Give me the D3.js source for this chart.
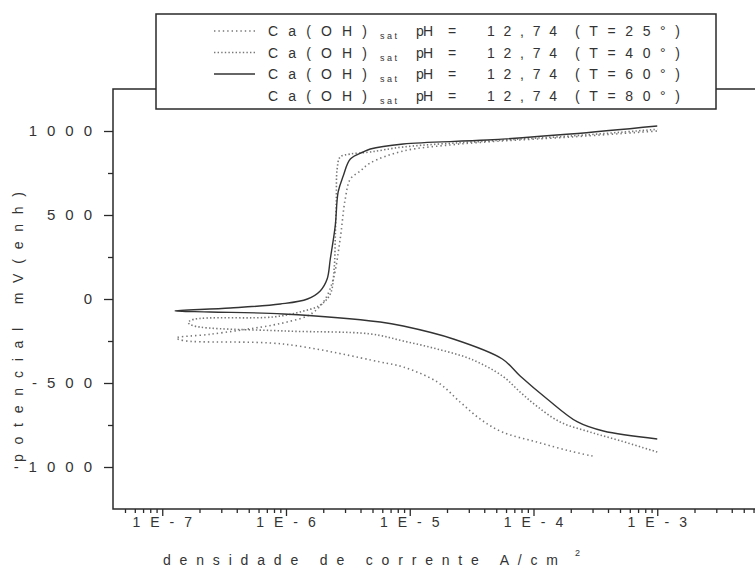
<!DOCTYPE html>
<html>
<head>
<meta charset="utf-8">
<script src="https://cdn.jsdelivr.net/npm/d3@7"></script>
<style>
  body { margin: 0; background: #fff; }
  text { font-family: "Liberation Sans", Arial, sans-serif; fill: #333; }
</style>
</head>
<body>
<svg width="755" height="573" id="chart"></svg>
<script>
// series: [current density A/cm2, potential mV], both branches start at the tip (Ecorr)
const temps = ["25", "40", "60", "80"];

const anodic25 = [[1.3e-7, -232], [2.44e-7, -210], [7.05e-7, -161], [1.02e-6, -137], [1.49e-6, -101],
  [1.79e-6, -60], [2.08e-6, 0], [2.41e-6, 119], [2.74e-6, 357], [3.01e-6, 595], [3.31e-6, 714],
  [3.98e-6, 762], [4.8e-6, 810], [8.86e-6, 881], [2.12e-5, 917], [4.23e-5, 935], [1.98e-4, 964], [1e-3, 1000]];
const cathodic25 = [[1.3e-7, -232], [1.5e-7, -248], [9.5e-7, -268], [5.78e-6, -375], [8.86e-6, -405],
  [1.67e-5, -494], [2.55e-5, -613], [3.7e-5, -714], [5.6e-5, -792], [1.06e-4, -851], [1.97e-4, -905], [3.0e-4, -935]];

const anodic40 = [[1.62e-7, -140], [1.8e-7, -121], [7.89e-7, -107], [1.3e-6, -77], [1.89e-6, -36],
  [2.28e-6, 30], [2.45e-6, 179], [2.5e-6, 357], [2.55e-6, 595], [2.59e-6, 774], [2.74e-6, 845],
  [3.31e-6, 863], [4.8e-6, 875], [8.86e-6, 905], [4.23e-5, 940], [1.98e-4, 970], [1e-3, 1010]];
const cathodic40 = [[1.62e-7, -140], [1.8e-7, -160], [9.5e-7, -190], [4.8e-6, -208], [8.86e-6, -250],
  [1.67e-5, -298], [3.1e-5, -357], [5.6e-5, -458], [7.8e-5, -554], [1.06e-4, -637], [1.64e-4, -732],
  [2.86e-4, -792], [5.1e-4, -845], [1e-3, -911]];

const anodic60 = [[1.27e-7, -71], [3.54e-7, -54], [8.99e-7, -30], [1.49e-6, 0], [1.89e-6, 48],
  [2.15e-6, 119], [2.28e-6, 238], [2.5e-6, 435], [2.64e-6, 637], [2.9e-6, 732], [3.31e-6, 833],
  [4.21e-6, 875], [4.8e-6, 893], [8.86e-6, 923], [4.23e-5, 946], [1.98e-4, 982], [1e-3, 1030]];
const cathodic60 = [[1.27e-7, -71], [2.44e-7, -77], [9.5e-7, -89], [5.78e-6, -137], [8.86e-6, -161],
  [2.25e-5, -238], [5.6e-5, -357], [7.8e-5, -458], [1.29e-4, -595], [2.27e-4, -732], [3.67e-4, -786], [1e-3, -833]];

const anodic80 = [];
const cathodic80 = [];

const xTicks = [1e-7, 1e-6, 1e-5, 1e-4, 1e-3];
const xTickLabels = ["1E-7", "1E-6", "1E-5", "1E-4", "1E-3"];
const yTicks = [-1000, -500, 0, 500, 1000];
const yMinorTicks = [-750, -250, 250, 750];

const svg = d3.select("#chart");
const plotLeft = 113, plotRight = 781, plotTop = 89, plotBottom = 509;

const x = d3.scaleLog().domain([4e-8, 1e-2]).range([plotLeft, plotRight]);
const y = d3.scaleLinear().domain([-1250, 1250]).range([plotBottom, plotTop]);

// frame
svg.append("rect")
  .attr("x", plotLeft).attr("y", plotTop)
  .attr("width", plotRight - plotLeft).attr("height", plotBottom - plotTop)
  .attr("fill", "none").attr("stroke", "#2a2a2a").attr("stroke-width", 1.5);

// minor x ticks
let xMinor = [];
for (let d = -8; d <= -3; d++) {
  for (let k = 2; k <= 9; k++) {
    const v = k * Math.pow(10, d);
    if (v > 4e-8 && v < 1e-2) xMinor.push(v);
  }
}

const gx = svg.append("g").attr("transform", "translate(0," + plotBottom + ")");
gx.append("g").call(d3.axisBottom(x).tickValues(xMinor).tickSize(4).tickSizeOuter(0).tickFormat(""));
gx.append("g").call(d3.axisBottom(x).tickValues(xTicks).tickSize(7).tickSizeOuter(0).tickFormat(""));
gx.selectAll("path.domain").remove();
gx.selectAll("line").attr("stroke", "#2a2a2a").attr("stroke-width", 1.3);

svg.selectAll(".xlab")
  .data(xTicks)
  .enter().append("text")
  .attr("class", "xlab")
  .attr("x", d => x(d) + 5)
  .attr("y", 527)
  .attr("text-anchor", "middle")
  .style("font-size", "14px")
  .style("letter-spacing", "10px")
  .text((d, i) => xTickLabels[i]);

const gy = svg.append("g").attr("transform", "translate(" + plotLeft + ",0)");
gy.append("g").call(d3.axisLeft(y).tickValues(yMinorTicks).tickSize(5).tickSizeOuter(0).tickFormat(""));
gy.append("g").call(d3.axisLeft(y).tickValues(yTicks).tickSize(9).tickSizeOuter(0).tickFormat(""));
gy.selectAll("path.domain").remove();
gy.selectAll("line").attr("stroke", "#2a2a2a").attr("stroke-width", 1.3);

svg.selectAll(".ylab")
  .data(yTicks)
  .enter().append("text")
  .attr("class", "ylab")
  .attr("x", 102)
  .attr("y", d => y(d))
  .attr("dy", "0.36em")
  .attr("text-anchor", "end")
  .style("font-size", "15px")
  .style("letter-spacing", "10px")
  .text(d => d);

// axis titles
svg.append("text")
  .attr("x", 163).attr("y", 565)
  .attr("textLength", 395).attr("lengthAdjust", "spacing")
  .style("font-size", "14px")
  .text("densidade de corrente A/cm");
svg.append("text")
  .attr("x", 575).attr("y", 556)
  .style("font-size", "9px")
  .text("2");

svg.append("text")
  .attr("transform", "translate(23,462) rotate(-90)")
  .attr("textLength", 270).attr("lengthAdjust", "spacing")
  .style("font-size", "14px")
  .text("potencial mV(enh)");

// curves
const line = d3.line()
  .x(d => x(d[0]))
  .y(d => y(d[1]))
  .curve(d3.curveCatmullRom.alpha(0.5));

const series = [
  { t: "25", anodic: anodic25, cathodic: cathodic25, color: "#777", dash: "1.4,3", width: 1.6 },
  { t: "40", anodic: anodic40, cathodic: cathodic40, color: "#777", dash: "1.4,2.2", width: 1.6 },
  { t: "60", anodic: anodic60, cathodic: cathodic60, color: "#333", dash: null, width: 1.4 },
  { t: "80", anodic: anodic80, cathodic: cathodic80, color: "none", dash: null, width: 0 }
];

series.forEach(s => {
  if (!s.anodic.length) return;
  const pts = s.cathodic.slice().reverse().concat(s.anodic.slice(1));
  svg.append("path")
    .attr("d", line(pts))
    .attr("fill", "none")
    .attr("stroke", s.color)
    .attr("stroke-width", s.width)
    .attr("stroke-dasharray", s.dash);
});

// legend
const lg = svg.append("g");
lg.append("rect")
  .attr("x", 156).attr("y", 14).attr("width", 560).attr("height", 95)
  .attr("fill", "#fff").attr("stroke", "#2a2a2a").attr("stroke-width", 1.5);

const pieceX = [268, 380, 416, 448, 487, 575];
const pieceLen = [99, 17, 17, 9, 70, 105];

series.forEach((s, i) => {
  const by = 36 + i * 21.5;
  if (s.width) {
    lg.append("line")
      .attr("x1", 214).attr("x2", 255)
      .attr("y1", by - 5).attr("y2", by - 5)
      .attr("stroke", s.color)
      .attr("stroke-width", s.width)
      .attr("stroke-dasharray", s.dash);
  }
  const pieces = ["Ca(OH)", "sat", "pH", "=", "12,74", "(T=" + s.t + "°)"];
  pieces.forEach((p, j) => {
    const t = lg.append("text")
      .attr("x", pieceX[j])
      .attr("y", j === 1 ? by + 3 : by)
      .style("font-size", j === 1 ? "9px" : "14px")
      .text(p);
    if (p.length > 1) t.attr("textLength", pieceLen[j]).attr("lengthAdjust", "spacing");
  });
});
</script>
</body>
</html>
